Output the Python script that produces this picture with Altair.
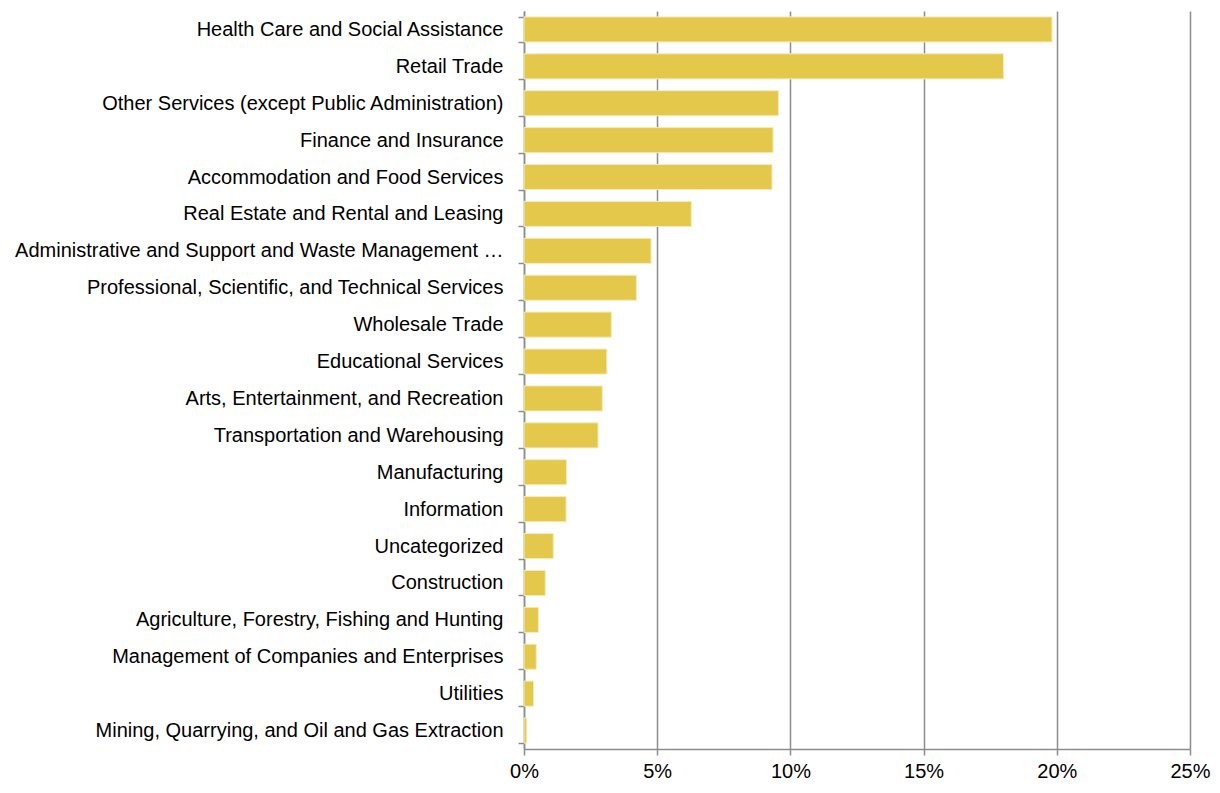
import altair as alt
import pandas as pd

industries = [
    "Health Care and Social Assistance",
    "Retail Trade",
    "Other Services (except Public Administration)",
    "Finance and Insurance",
    "Accommodation and Food Services",
    "Real Estate and Rental and Leasing",
    "Administrative and Support and Waste Management and Remediation Services",
    "Professional, Scientific, and Technical Services",
    "Wholesale Trade",
    "Educational Services",
    "Arts, Entertainment, and Recreation",
    "Transportation and Warehousing",
    "Manufacturing",
    "Information",
    "Uncategorized",
    "Construction",
    "Agriculture, Forestry, Fishing and Hunting",
    "Management of Companies and Enterprises",
    "Utilities",
    "Mining, Quarrying, and Oil and Gas Extraction",
]
shares = [
    0.1982, 0.1800, 0.0955, 0.0935, 0.0931, 0.0628, 0.0477, 0.0422,
    0.0328, 0.0311, 0.0294, 0.0278, 0.0160, 0.0158, 0.0110, 0.0080,
    0.0054, 0.0046, 0.0036, 0.0010,
]
x_ticks = [0, 0.05, 0.10, 0.15, 0.20, 0.25]

df = pd.DataFrame({"industry": industries, "share": shares})

font = "Liberation Sans"

chart = (
    alt.Chart(df)
    .mark_bar(color="#E3C84B", stroke="#F5EBC0", strokeWidth=1)
    .encode(
        x=alt.X(
            "share:Q",
            scale=alt.Scale(domain=[0, 0.25], nice=False),
            axis=alt.Axis(
                values=x_ticks,
                format=".0%",
                title=None,
                grid=True,
                gridColor="#8C8C8C",
                gridWidth=1.5,
                domainColor="#8C8C8C",
                domainWidth=1.5,
                tickColor="#8C8C8C",
                tickWidth=1.5,
                tickSize=6,
                labelFont=font,
                labelFontSize=20,
                labelColor="#000000",
                labelPadding=6,
                labelFlush=False,
            ),
        ),
        y=alt.Y(
            "industry:N",
            sort=industries,
            scale=alt.Scale(paddingInner=0.32, paddingOuter=0.16),
            axis=alt.Axis(
                title=None,
                tickBand="extent",
                domainColor="#8C8C8C",
                domainWidth=1.5,
                tickColor="#8C8C8C",
                tickWidth=1.5,
                tickSize=6,
                labelFont=font,
                labelFontSize=20,
                labelColor="#000000",
                labelPadding=15,
                labelLimit=495,
            ),
        ),
    )
    .properties(
        width=666,
        height=738,
        autosize=alt.AutoSizeParams(type="none"),
        padding={"left": 516, "top": 3, "right": 21, "bottom": 34},
    )
    .configure_view(stroke=None)
)

chart.save("out.html", embed_options={"renderer": "svg", "actions": False})
